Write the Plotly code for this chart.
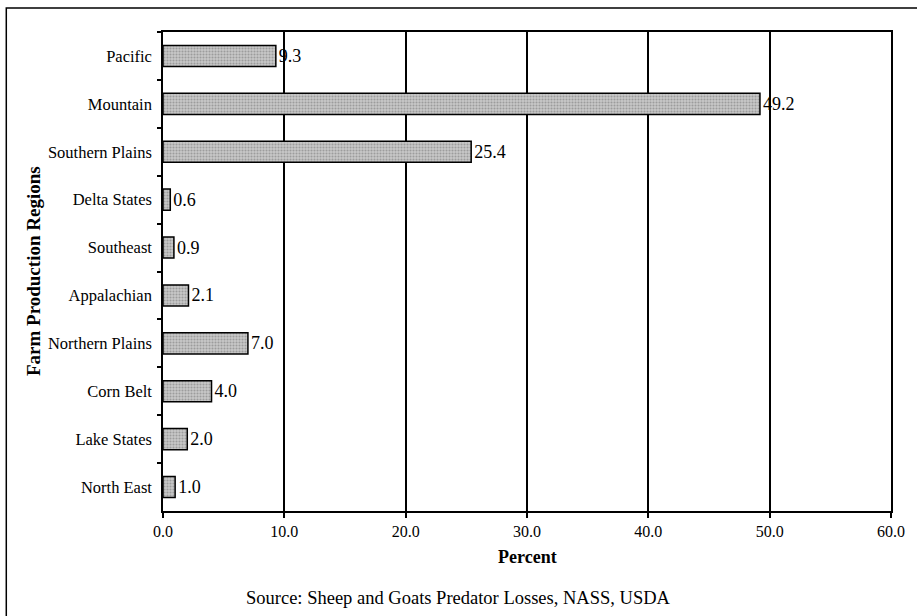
import plotly.graph_objects as go

regions = ["Pacific", "Mountain", "Southern Plains", "Delta States", "Southeast",
           "Appalachian", "Northern Plains", "Corn Belt", "Lake States", "North East"]
percent = [9.3, 49.2, 25.4, 0.6, 0.9, 2.1, 7.0, 4.0, 2.0, 1.0]
x_ticks = [0, 10, 20, 30, 40, 50, 60]
x_tick_labels = ["0.0", "10.0", "20.0", "30.0", "40.0", "50.0", "60.0"]

FONT = "Liberation Serif"

fig = go.Figure(go.Bar(
    x=percent, y=regions, orientation="h", width=0.44,
    marker=dict(color="#b8b8b8",
                line=dict(color="black", width=1.5),
                pattern=dict(shape=".", fgcolor="#707070", bgcolor="#c8c8c8",
                             size=3, solidity=0.4)),
    text=[f"{v:.1f}" for v in percent], textposition="outside",
    textfont=dict(family=FONT, size=18, color="black"),
    cliponaxis=False,
))

W, H = 917, 616
L, R, T, B = 163, 20, 32, 105
pw, ph = W - L - R, H - T - B

def px(x):
    return (x - L) / pw

def py(y):
    return (H - B - y) / ph

fig.update_layout(
    width=W, height=H,
    margin=dict(l=L, r=R, t=T, b=B),
    paper_bgcolor="white", plot_bgcolor="white",
    showlegend=False,
    font=dict(family=FONT, color="black"),
    xaxis=dict(range=[0, 60], tickvals=x_ticks, ticktext=x_tick_labels,
               showgrid=True, gridcolor="black", gridwidth=1.5,
               showline=True, linecolor="black", linewidth=1.5, mirror=True,
               ticks="outside", ticklen=5, tickcolor="black", tickwidth=1.5,
               tickfont=dict(family=FONT, size=16), zeroline=False, fixedrange=True),
    yaxis=dict(autorange="reversed", categoryorder="array", categoryarray=regions,
               showline=True, linecolor="black", linewidth=1.5, mirror=True,
               ticks="outside", ticklen=4, tickcolor="black", tickwidth=1.5,
               tickson="boundaries", showgrid=False, ticklabelstandoff=6,
               tickfont=dict(family=FONT, size=16.5)),
    annotations=[
        dict(text="<b>Percent</b>", xref="paper", yref="paper", x=px(531), y=py(557),
             xanchor="center", yanchor="middle",
             showarrow=False, font=dict(family=FONT, size=18)),
        dict(text="<b>Farm Production Regions</b>", xref="paper", yref="paper",
             x=px(32), y=py(271), textangle=-90, showarrow=False,
             xanchor="center", yanchor="middle",
             font=dict(family=FONT, size=19)),
        dict(text="Source: Sheep and Goats Predator Losses, NASS, USDA", xref="paper",
             yref="paper", x=px(461), y=py(598), showarrow=False,
             xanchor="center", yanchor="middle",
             font=dict(family=FONT, size=18.5)),
    ],
    shapes=[dict(type="rect", xref="paper", yref="paper",
                 x0=px(5), x1=px(925), y0=py(625), y1=py(8),
                 line=dict(color="black", width=1.5), layer="below")],
)

fig.write_html("out.html", config={"displayModeBar": False},
               post_script="document.body.style.margin='0';document.body.style.overflow='hidden';")
